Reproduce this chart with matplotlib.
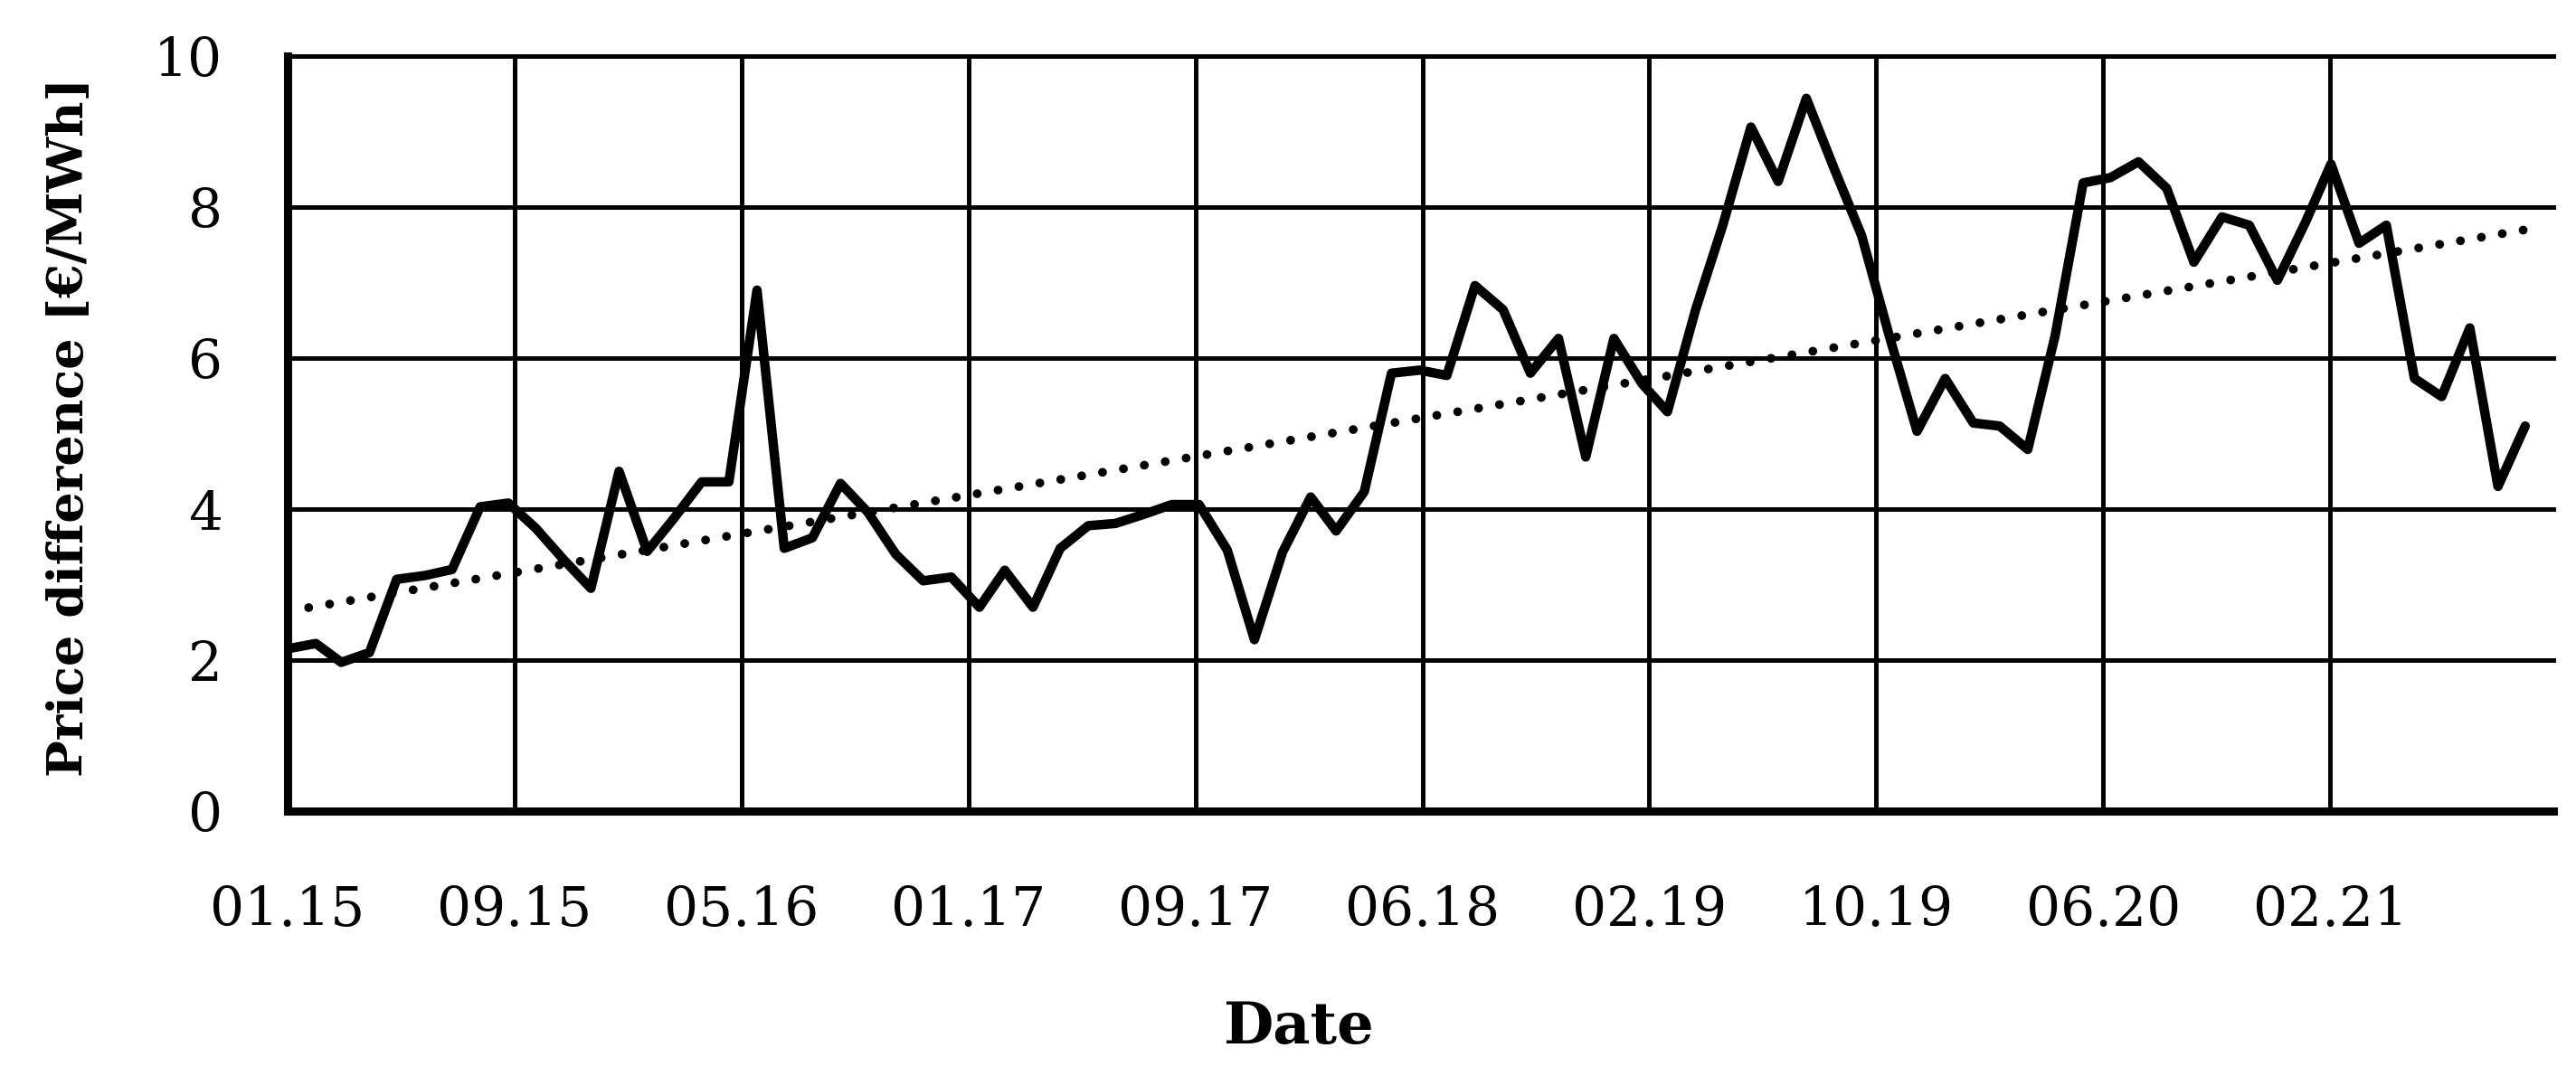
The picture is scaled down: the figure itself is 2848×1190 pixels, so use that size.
import numpy as np
import pandas as pd
import matplotlib
matplotlib.use("Agg")
import matplotlib.pyplot as plt
import matplotlib.dates as mdates

# monthly price difference, 01.2015 - 10.2021
months = pd.date_range("2015-01-01", "2021-10-01", freq="MS")
price_diff = [
    2.15, 2.22, 1.97, 2.10, 3.07, 3.12, 3.20, 4.03, 4.08, 3.75,  # 2015-01..10
    3.33, 2.95, 4.50, 3.44, 3.87, 4.36, 4.36, 6.90, 3.48, 3.62,  # 2015-11..2016-08
    4.34, 3.96, 3.40, 3.05, 3.10, 2.70, 3.19, 2.70, 3.48, 3.78,  # 2016-09..2017-06
    3.81, 3.93, 4.06, 4.06, 3.46, 2.27, 3.43, 4.16, 3.71, 4.23,  # 2017-07..2018-04
    5.80, 5.84, 5.77, 6.96, 6.64, 5.80, 6.26, 4.69, 6.26, 5.66,  # 2018-05..2019-02
    5.29, 6.64, 7.76, 9.06, 8.34, 9.44, 8.50, 7.62, 6.27, 5.03,  # 2019-03..2019-12
    5.73, 5.14, 5.10, 4.79, 6.29, 8.32, 8.39, 8.60, 8.25, 7.27,  # 2020-01..10
    7.87, 7.76, 7.03, 7.80, 8.57, 7.52, 7.76, 5.73, 5.49, 6.40,  # 2020-11..2021-08
    4.30, 5.10,                                                  # 2021-09..10
]

# date axis: major unit of 250 days from the first month
axis_start = pd.Timestamp("2015-01-01")
axis_end = pd.Timestamp("2021-11-01")
tick_dates = [axis_start + pd.Timedelta(days=250 * k) for k in range(10)]
y_ticks = [0, 2, 4, 6, 8, 10]

plt.rcParams['font.family'] = ['DejaVu Serif']

fig = plt.figure(figsize=(28.48, 11.90), dpi=100)
ax = fig.add_axes([0.1117, 0.2462, 0.8795, 0.7017])

ax.plot(months, price_diff, color='black', lw=7.5,
        solid_joinstyle='round', solid_capstyle='round', zorder=3)

# linear trend
days = np.array((months - axis_start).days, dtype=float)
k, b = np.polyfit(days, price_diff, 1)
ax.plot(months, k * days + b, color='black', lw=7,
        linestyle=(0, (0.01, 2.4)), dash_capstyle='round', zorder=3)

ax.set_xlim(axis_start, axis_end)
ax.set_ylim(0, 10)
ax.set_yticks(y_ticks)
ax.set_xticks(tick_dates)
ax.xaxis.set_major_formatter(mdates.DateFormatter('%m.%y'))

ax.grid(True, color='black', lw=3.6)
for gl in ax.get_xgridlines() + ax.get_ygridlines():
    gl.set_clip_on(False)

for side in ['top', 'right']:
    ax.spines[side].set_visible(False)
for side in ['left', 'bottom']:
    ax.spines[side].set_linewidth(6.5)
    ax.spines[side].set_zorder(4)

ax.tick_params(axis='both', length=0, labelsize=43)
ax.tick_params(axis='y', pad=52)
ax.tick_params(axis='x', pad=58)

fig.text(0.027, 0.603, 'Price difference [€/MWh]', rotation=90,
         ha='center', va='center', fontsize=39, fontweight='bold')
fig.text(0.504, 0.045, 'Date', ha='center', va='center',
         fontsize=46, fontweight='bold')

fig.savefig('out.png', dpi=100, facecolor='white')
